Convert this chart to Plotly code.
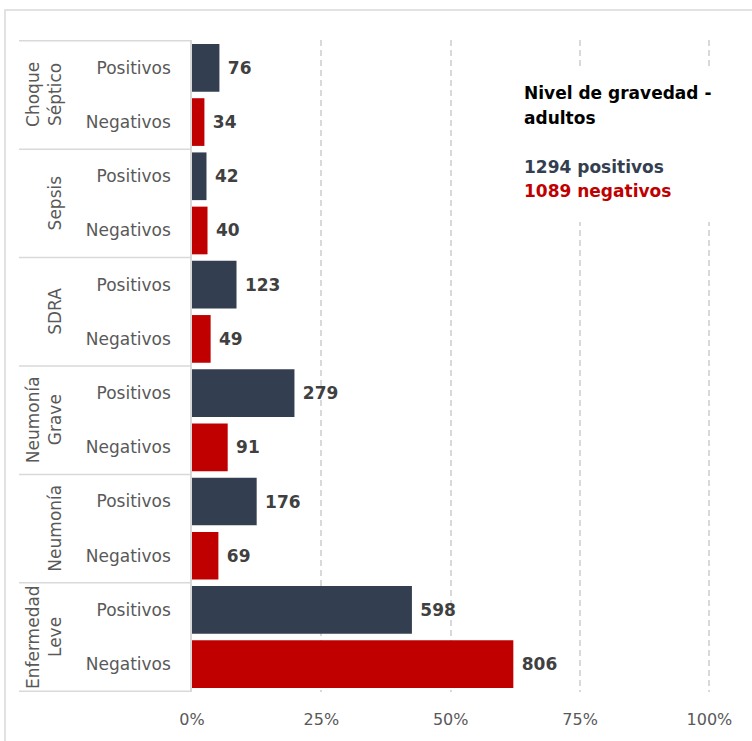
import plotly.graph_objects as go

# ---- data ----
groups = ["Choque Séptico", "Sepsis", "SDRA", "Neumonía Grave", "Neumonía", "Enfermedad Leve"]
group_lines = [["Choque", "Séptico"], ["Sepsis"], ["SDRA"], ["Neumonía", "Grave"], ["Neumonía"], ["Enfermedad", "Leve"]]
subcats = ["Positivos", "Negativos"]
pos_counts = [76, 42, 123, 279, 176, 598]
neg_counts = [34, 40, 49, 91, 69, 806]
pos_pct = [5.3, 2.8, 8.6, 19.8, 12.5, 42.5]
neg_pct = [2.4, 3.0, 3.6, 6.9, 5.1, 62.1]
x_ticks = [0, 25, 50, 75, 100]
x_ticktext = ["0%", "25%", "50%", "75%", "100%"]
title_lines = ["Nivel de gravedad -", "adultos"]
total_pos_text = "1294 positivos"
total_neg_text = "1089 negativos"

POS_COLOR = "#333f50"
NEG_COLOR = "#c00000"
FONT = "DejaVu Sans"
W, H = 752, 741
XMAX = 100.3
ML, MT, MB = 192, 40, 49
PW = round(517 * XMAX / 100)
MR = W - ML - PW
PH = H - MT - MB


def px_x(px):
    return (px - ML) / PW


def px_y(py):
    return 1 - (py - MT) / PH


keys = []
for g in groups:
    for s in subcats:
        keys.append(f"{g}|{s}")
pos_keys = [f"{g}|Positivos" for g in groups]
neg_keys = [f"{g}|Negativos" for g in groups]

fig = go.Figure()
NB = "\u00a0"
fig.add_trace(go.Bar(
    y=pos_keys, x=pos_pct, orientation="h", marker=dict(color=POS_COLOR, line=dict(width=0)),
    text=[f"{NB}<b>{c}</b>" for c in pos_counts], textposition="outside", cliponaxis=False,
    constraintext="none", textfont=dict(family=FONT, size=17, color="#404040"),
    hoverinfo="skip", showlegend=False,
))
fig.add_trace(go.Bar(
    y=neg_keys, x=neg_pct, orientation="h", marker=dict(color=NEG_COLOR, line=dict(width=0)),
    text=[f"{NB}<b>{c}</b>" for c in neg_counts], textposition="outside", cliponaxis=False,
    constraintext="none", textfont=dict(family=FONT, size=17, color="#404040"),
    hoverinfo="skip", showlegend=False,
))

shapes = []
annotations = []
# outer border
shapes.append(dict(type="rect", xref="paper", yref="paper", x0=px_x(5), x1=px_x(800),
                   y0=px_y(800), y1=px_y(10), line=dict(color="#d9d9d9", width=1.5),
                   fillcolor="rgba(0,0,0,0)", layer="below"))
# group separators
n = len(groups)
for i in range(n + 1):
    yy = 2 * i - 0.5
    shapes.append(dict(type="line", xref="paper", yref="y", x0=px_x(19), x1=0,
                       y0=yy, y1=yy, line=dict(color="#d9d9d9", width=1.5), layer="above"))
# group labels (rotated)
for i, lines in enumerate(group_lines):
    m = len(lines)
    for j, t in enumerate(lines):
        cx = 55 - 22 * (m - 1 - j)
        annotations.append(dict(text=t, xref="paper", yref="y", x=px_x(cx), y=2 * i + 0.5,
                                textangle=-90, showarrow=False, xanchor="center", yanchor="middle",
                                font=dict(family=FONT, size=17, color="#595959")))
# white box behind the note text
shapes.append(dict(type="rect", xref="paper", yref="paper", x0=px_x(505), x1=px_x(745),
                   y0=px_y(222), y1=px_y(68), line=dict(width=0), fillcolor="white", layer="above"))
note = [
    (title_lines[0], 93, "#000000"),
    (title_lines[1], 118, "#000000"),
    (total_pos_text, 167, POS_COLOR),
    (total_neg_text, 191, NEG_COLOR),
]
for t, cy, col in note:
    annotations.append(dict(text=f"<b>{t}</b>", xref="paper", yref="paper", x=px_x(522), y=px_y(cy),
                            xanchor="left", yanchor="middle", showarrow=False,
                            font=dict(family=FONT, size=17, color=col)))

fig.update_layout(
    width=W, height=H, margin=dict(l=ML, r=MR, t=MT, b=MB),
    paper_bgcolor="white", plot_bgcolor="white",
    barmode="overlay", bargap=0.12,
    shapes=shapes, annotations=annotations,
    font=dict(family=FONT, color="#595959"),
    xaxis=dict(range=[0, XMAX], tickvals=x_ticks, ticktext=x_ticktext, showgrid=True,
               gridcolor="#d9d9d9", gridwidth=1.5, griddash="6px,4px", zeroline=False,
               showline=False, ticks="", ticklabelstandoff=16,
               tickfont=dict(family=FONT, size=16, color="#595959"), fixedrange=True),
    yaxis=dict(type="category", categoryorder="array", categoryarray=keys,
               tickvals=keys, ticktext=[k.split("|")[1] for k in keys], autorange="reversed",
               showline=True, linecolor="#d9d9d9", linewidth=1.5, showgrid=False, ticks="",
               ticklabelstandoff=16, tickfont=dict(family=FONT, size=17, color="#595959"),
               fixedrange=True),
)

fig.write_html("out.html", config={"displayModeBar": False},
               post_script="document.body.style.margin='0px';document.body.style.padding='0px';")
